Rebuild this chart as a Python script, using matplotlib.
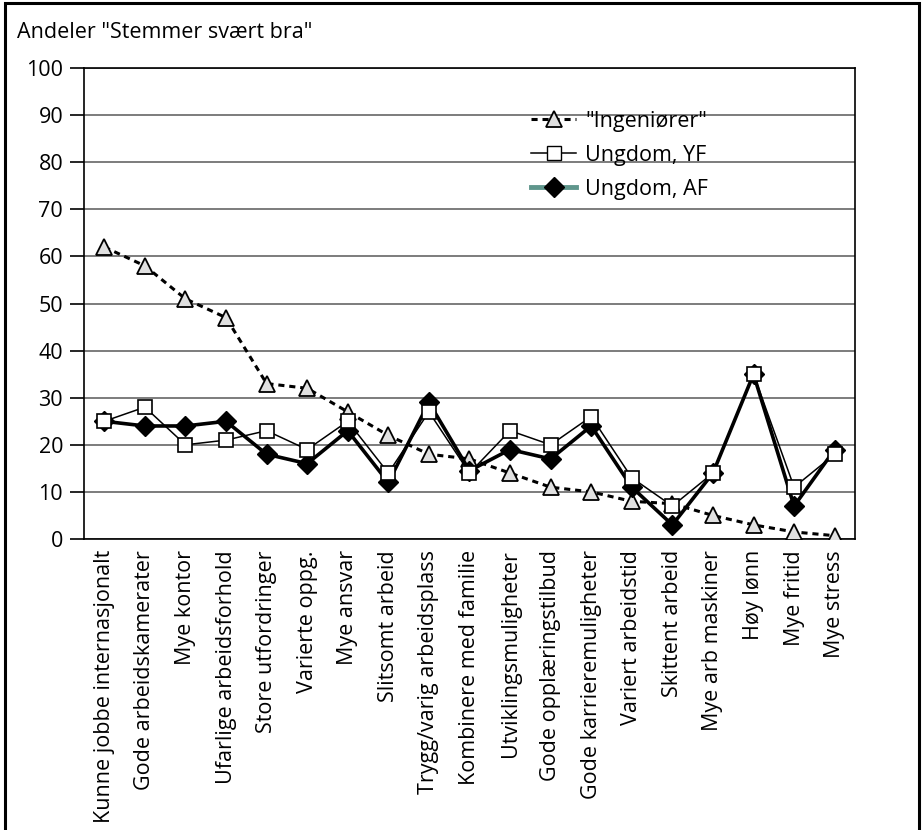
import matplotlib.pyplot as plt
from matplotlib.lines import Line2D
from matplotlib.patches import Rectangle

plt.rcParams['font.family'] = ['Open Sans', 'DejaVu Sans']

categories = [
    "Kunne jobbe internasjonalt", "Gode arbeidskamerater", "Mye kontor",
    "Ufarlige arbeidsforhold", "Store utfordringer", "Varierte oppg.",
    "Mye ansvar", "Slitsomt arbeid", "Trygg/varig arbeidsplass",
    "Kombinere med familie", "Utviklingsmuligheter", "Gode opplæringstilbud",
    "Gode karrieremuligheter", "Variert arbeidstid", "Skittent arbeid",
    "Mye arb maskiner", "Høy lønn", "Mye fritid", "Mye stress",
]
ingeniorer = [62, 58, 51, 47, 33, 32, 27, 22, 18, 17, 14, 11, 10, 8, 7.5, 5, 3, 1.5, 0.7]
ungdom_yf = [25, 28, 20, 21, 23, 19, 25, 14, 27, 14, 23, 20, 26, 13, 7, 14, 35, 11, 18]
ungdom_af = [25, 24, 24, 25, 18, 16, 23, 12, 29, 14.5, 19, 17, 24, 11, 3, 14, 35, 7, 19]

fs = 15.5

fig = plt.figure(figsize=(9.22, 8.3), dpi=100)
ax = fig.add_axes([0.0911, 0.3506, 0.8362, 0.5674])

x = range(len(categories))
ax.plot(x, ingeniorer, linestyle=(0, (2, 1.6)), color='black', lw=2.2,
        marker='^', markersize=11, markerfacecolor='#e0e0e0',
        markeredgecolor='black', markeredgewidth=1.3, zorder=3)
ax.plot(x, ungdom_af, '-', color='black', lw=2.6, marker='D', markersize=10,
        markerfacecolor='black', markeredgecolor='black', zorder=4)
ax.plot(x, ungdom_yf, '-', color='black', lw=1.1, marker='s', markersize=10,
        markerfacecolor='white', markeredgecolor='black', markeredgewidth=1.2,
        zorder=5)

ax.set_xlim(-0.5, len(categories) - 0.5)
ax.set_ylim(0, 100)
ax.set_yticks(range(0, 101, 10))
ax.set_xticks(list(x))
ax.set_xticklabels(categories, rotation=90, fontsize=fs)
ax.tick_params(axis='x', length=0, pad=8)
ax.tick_params(axis='y', length=10, width=1.2, labelsize=fs, pad=5)
ax.grid(axis='y', color='#666666', lw=1.2)
ax.set_axisbelow(True)
for s in ax.spines.values():
    s.set_linewidth(1.2)
    s.set_color('black')

handles = [
    Line2D([], [], linestyle=(0, (2, 1.6)), color='black', lw=2.2, marker='^',
           markersize=11, markerfacecolor='#e0e0e0', markeredgecolor='black',
           markeredgewidth=1.3),
    Line2D([], [], color='black', lw=1.1, marker='s', markersize=10,
           markerfacecolor='white', markeredgecolor='black'),
    Line2D([], [], color='#5f968c', lw=3.5, marker='D', markersize=10,
           markerfacecolor='black', markeredgecolor='black'),
]
ax.legend(handles, ['"Ingeniører"', 'Ungdom, YF', 'Ungdom, AF'],
          loc='upper left', bbox_to_anchor=(0.555, 0.95), frameon=False,
          fontsize=fs, handlelength=2.1, labelspacing=0.6, handletextpad=0.4)

fig.text(17 / 922, 1 - 33 / 830, 'Andeler "Stemmer svært bra"', fontsize=fs,
         va='center', ha='left')
fig.patches.append(Rectangle((5 / 922, -0.01), 914 / 922, 1.01 - 3 / 830,
                             transform=fig.transFigure, fill=False,
                             edgecolor='black', lw=2.2))

fig.savefig('out.png', dpi=100)
